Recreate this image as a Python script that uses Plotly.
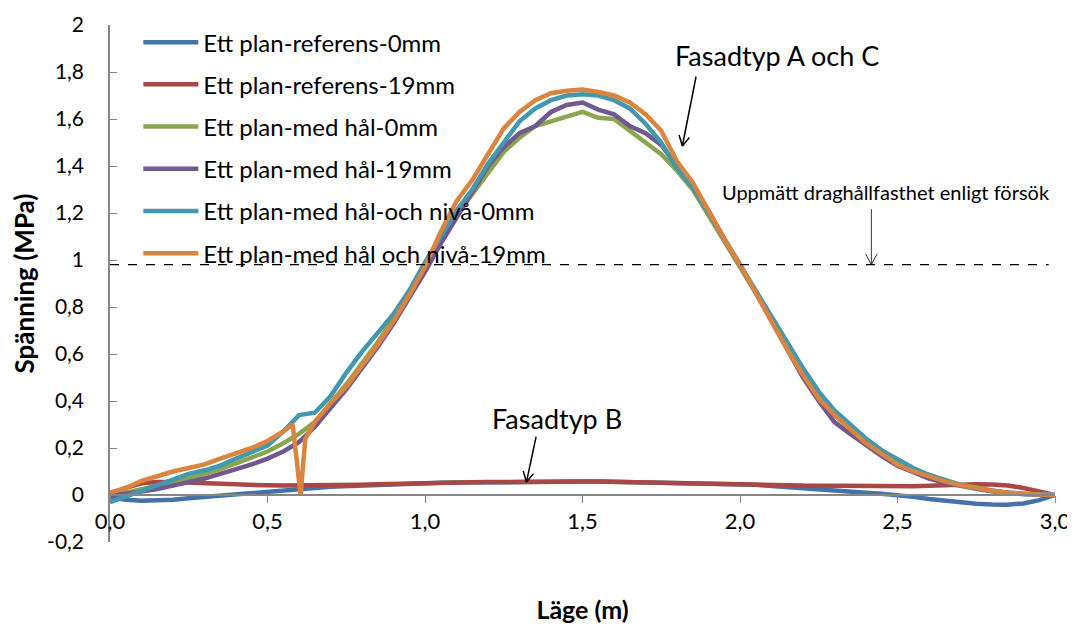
import plotly.graph_objects as go
import math

# ==========================================
# Data
# ==========================================

x_pos = [0.00, 0.05, 0.10, 0.15, 0.20, 0.25, 0.30, 0.35, 0.40, 0.45,
         0.50, 0.55, 0.60, 0.65, 0.70, 0.75, 0.80, 0.85, 0.90, 0.95,
         1.00, 1.05, 1.10, 1.15, 1.20, 1.25, 1.30, 1.35, 1.40, 1.45,
         1.50, 1.55, 1.60, 1.65, 1.70, 1.75, 1.80, 1.85, 1.90, 1.95,
         2.00, 2.05, 2.10, 2.15, 2.20, 2.25, 2.30, 2.35, 2.40, 2.45,
         2.50, 2.55, 2.60, 2.65, 2.70, 2.75, 2.80, 2.85, 2.90, 2.95,
         3.00]

ref_0mm = [-0.010, -0.020, -0.024, -0.024, -0.020, -0.014, -0.008, -0.002, 0.004, 0.010,
           0.015, 0.020, 0.025, 0.030, 0.035, 0.038, 0.041, 0.044, 0.047, 0.049,
           0.051, 0.052, 0.053, 0.054, 0.055, 0.056, 0.056, 0.057, 0.057, 0.057,
           0.057, 0.057, 0.056, 0.056, 0.055, 0.054, 0.053, 0.052, 0.050, 0.049,
           0.047, 0.044, 0.038, 0.034, 0.030, 0.025, 0.020, 0.015, 0.010, 0.005,
           0.000, -0.008, -0.017, -0.025, -0.032, -0.037, -0.040, -0.041, -0.036, -0.022,
           0.000]

ref_19mm = [0.000, 0.030, 0.050, 0.055, 0.055, 0.052, 0.050, 0.047, 0.045, 0.043,
            0.041, 0.040, 0.040, 0.040, 0.041, 0.042, 0.044, 0.046, 0.048, 0.050,
            0.051, 0.052, 0.053, 0.054, 0.055, 0.056, 0.056, 0.057, 0.057, 0.057,
            0.057, 0.057, 0.056, 0.056, 0.055, 0.054, 0.053, 0.052, 0.050, 0.049,
            0.048, 0.046, 0.044, 0.042, 0.040, 0.039, 0.038, 0.037, 0.037, 0.036,
            0.036, 0.037, 0.039, 0.042, 0.045, 0.046, 0.045, 0.040, 0.030, 0.017,
            0.000]

hal_0mm = [0.000, 0.010, 0.025, 0.040, 0.055, 0.070, 0.090, 0.110, 0.135, 0.160,
           0.185, 0.220, 0.260, 0.310, 0.390, 0.470, 0.560, 0.650, 0.750, 0.860,
           0.970, 1.080, 1.190, 1.280, 1.370, 1.460, 1.520, 1.570, 1.590, 1.610,
           1.630, 1.605, 1.600, 1.550, 1.500, 1.450, 1.380, 1.300, 1.190, 1.080,
           0.970, 0.860, 0.750, 0.640, 0.530, 0.430, 0.350, 0.290, 0.235, 0.190,
           0.145, 0.110, 0.085, 0.062, 0.044, 0.030, 0.019, 0.010, 0.005, 0.002,
           0.000]

hal_19mm = [0.000, 0.005, 0.015, 0.025, 0.040, 0.055, 0.070, 0.090, 0.110, 0.130,
            0.155, 0.185, 0.225, 0.290, 0.370, 0.450, 0.540, 0.630, 0.730, 0.840,
            0.950, 1.070, 1.180, 1.290, 1.400, 1.480, 1.540, 1.570, 1.630, 1.660,
            1.670, 1.640, 1.620, 1.570, 1.540, 1.490, 1.400, 1.310, 1.210, 1.090,
            0.980, 0.860, 0.740, 0.620, 0.500, 0.400, 0.310, 0.260, 0.210, 0.165,
            0.125, 0.095, 0.070, 0.052, 0.038, 0.026, 0.016, 0.009, 0.004, 0.001,
            0.000]

niva_0mm = [-0.030, -0.005, 0.020, 0.040, 0.070, 0.090, 0.105, 0.125, 0.155, 0.180,
            0.210, 0.270, 0.340, 0.350, 0.420, 0.520, 0.610, 0.690, 0.770, 0.870,
            0.990, 1.100, 1.210, 1.300, 1.410, 1.500, 1.590, 1.645, 1.680, 1.700,
            1.705, 1.700, 1.680, 1.645, 1.580, 1.500, 1.390, 1.310, 1.200, 1.090,
            0.980, 0.870, 0.760, 0.650, 0.540, 0.440, 0.360, 0.300, 0.240, 0.190,
            0.150, 0.115, 0.085, 0.062, 0.043, 0.028, 0.017, 0.009, 0.004, 0.001,
            0.000]

# this one has the sharp dip just after 0.6 m
x_niva_19 = [0.00, 0.05, 0.10, 0.15, 0.20, 0.25, 0.30, 0.35, 0.40, 0.45,
             0.50, 0.55, 0.58, 0.605, 0.62, 0.65, 0.70, 0.75, 0.80, 0.85, 0.90, 0.95,
             1.00, 1.05, 1.10, 1.15, 1.20, 1.25, 1.30, 1.35, 1.40, 1.45,
             1.50, 1.55, 1.60, 1.65, 1.70, 1.75, 1.80, 1.85, 1.90, 1.95,
             2.00, 2.05, 2.10, 2.15, 2.20, 2.25, 2.30, 2.35, 2.40, 2.45,
             2.50, 2.55, 2.60, 2.65, 2.70, 2.75, 2.80, 2.85, 2.90, 2.95,
             3.00]
niva_19mm = [0.010, 0.030, 0.060, 0.080, 0.100, 0.115, 0.130, 0.155, 0.175, 0.200,
             0.230, 0.270, 0.300, 0.000, 0.240, 0.310, 0.390, 0.460, 0.550, 0.640, 0.740, 0.850,
             0.970, 1.120, 1.250, 1.340, 1.450, 1.560, 1.630, 1.680, 1.710, 1.720,
             1.725, 1.715, 1.700, 1.670, 1.620, 1.550, 1.420, 1.330, 1.210, 1.090,
             0.980, 0.860, 0.740, 0.620, 0.510, 0.410, 0.340, 0.280, 0.220, 0.175,
             0.130, 0.100, 0.078, 0.058, 0.042, 0.028, 0.018, 0.010, 0.005, 0.002,
             0.000]

series_names = [
    "Ett plan-referens-0mm",
    "Ett plan-referens-19mm",
    "Ett plan-med hål-0mm",
    "Ett plan-med hål-19mm",
    "Ett plan-med hål-och nivå-0mm",
    "Ett plan-med hål och nivå-19mm",
]
series_x = [x_pos, x_pos, x_pos, x_pos, x_pos, x_niva_19]
series_y = [ref_0mm, ref_19mm, hal_0mm, hal_19mm, niva_0mm, niva_19mm]
colors = ["#4572A7", "#AA4643", "#89A54E", "#71588F", "#4198AF", "#DB843D"]

measured_strength = 0.98

x_ticks = [0.0, 0.5, 1.0, 1.5, 2.0, 2.5, 3.0]
x_labels = ["0,0", "0,5", "1,0", "1,5", "2,0", "2,5", "3,0"]
y_ticks = [-0.2, 0, 0.2, 0.4, 0.6, 0.8, 1.0, 1.2, 1.4, 1.6, 1.8, 2.0]
y_labels = ["-0,2", "0", "0,2", "0,4", "0,6", "0,8", "1", "1,2", "1,4", "1,6", "1,8", "2"]

FONT = "Lato, 'Open Sans', sans-serif"

# ==========================================
# Plot
# ==========================================

fig = go.Figure()

for i in range(len(series_names)):
    fig.add_trace(go.Scatter(
        x=series_x[i],
        y=series_y[i],
        mode="lines",
        name=series_names[i],
        legendgroup=f"g{i}",
        line=dict(color=colors[i], width=4.5),
    ))

# dashed line: measured tensile strength
fig.add_shape(
    type="line", x0=0, x1=2.98, y0=measured_strength, y1=measured_strength,
    line=dict(color="black", width=1.2, dash="dash"),
)


def arrow(x, y, ax, ay, width, head=13):
    # shaft
    fig.add_annotation(x=x, y=y, ax=ax, ay=ay, text="", showarrow=True,
                       arrowhead=0, arrowwidth=width, arrowcolor="black")
    # open V head
    n = math.hypot(ax, ay)
    bx, by = ax / n, ay / n
    for t in (math.radians(28), math.radians(-28)):
        hx = bx * math.cos(t) - by * math.sin(t)
        hy = bx * math.sin(t) + by * math.cos(t)
        fig.add_annotation(x=x, y=y, ax=hx * head, ay=hy * head, text="",
                           showarrow=True, arrowhead=0, arrowwidth=width,
                           arrowcolor="black")


fig.add_annotation(x=2.119, y=1.869, text="Fasadtyp A och C", showarrow=False,
                   font=dict(size=27, color="black", family=FONT))
arrow(1.817, 1.485, 14, -71, 1.5)

fig.add_annotation(x=1.418, y=0.325, text="Fasadtyp B", showarrow=False,
                   font=dict(size=27, color="black", family=FONT))
arrow(1.322, 0.055, 10, -47, 1.5)

fig.add_annotation(x=2.465, y=1.291, text="Uppmätt draghållfasthet enligt försök",
                   showarrow=False, font=dict(size=20, color="black", family=FONT))
arrow(2.417, measured_strength, 0, -57, 0.8, head=14)

# the page adds an 8 px body margin, so the figure is sized to fit inside it
fig.update_layout(
    width=1067,
    height=624,
    margin=dict(l=102, r=20, t=13, b=90),
    plot_bgcolor="white",
    paper_bgcolor="white",
    font=dict(family=FONT, size=24, color="black"),
    showlegend=True,
    legend=dict(
        x=0.03, y=0.762, xanchor="left", yanchor="middle",
        bgcolor="rgba(0,0,0,0)",
        font=dict(size=24, family=FONT),
        tracegroupgap=8,
        itemwidth=55,
    ),
)

fig.update_xaxes(
    range=[0, 3.0],
    anchor="free",
    position=0.2 / 2.2,
    automargin=False,
    showline=True, linecolor="#868686", linewidth=1.5,
    ticks="outside", ticklen=7, tickcolor="#868686",
    tickvals=x_ticks, ticktext=x_labels,
    showgrid=False, zeroline=False,
    tickfont=dict(size=22),
    title=dict(text="<b>Läge (m)</b>", font=dict(size=25), standoff=67),
)

fig.update_yaxes(
    range=[-0.2, 2.0],
    automargin=False,
    showline=True, linecolor="#868686", linewidth=1.5,
    ticks="inside", ticklen=7, tickcolor="#868686",
    tickvals=y_ticks, ticktext=y_labels,
    ticklabelstandoff=20,
    showgrid=False, zeroline=False,
    tickfont=dict(size=21),
    title=dict(text="<b>Spänning (MPa)</b>", font=dict(size=26), standoff=8),
)

# ==========================================
# Save
# ==========================================

fig.write_html("out.html")
